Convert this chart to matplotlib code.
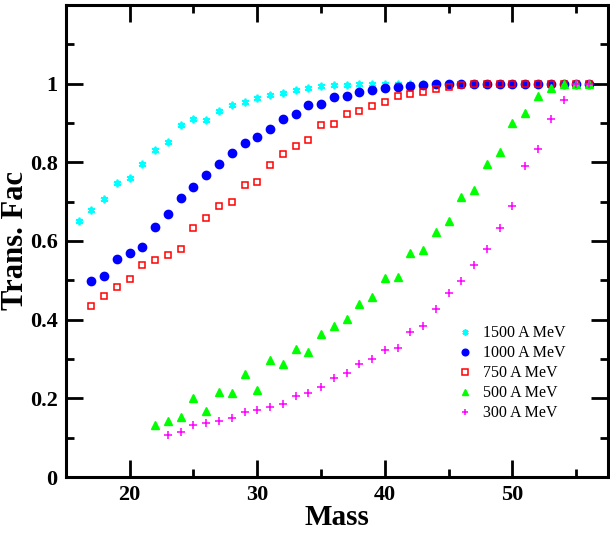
import numpy as np
import matplotlib
matplotlib.use("Agg")
from matplotlib import pyplot as plt
from matplotlib.ticker import MultipleLocator

plt.rcParams['font.family'] = ['Liberation Serif', 'DejaVu Serif']

# transmission factor vs fragment mass, one series per beam energy
mass_1500 = np.arange(16, 57)
fac_1500 = [0.651, 0.679, 0.706, 0.748, 0.761, 0.796, 0.830, 0.852, 0.894, 0.911,
            0.908, 0.931, 0.946, 0.952, 0.964, 0.972, 0.977, 0.983, 0.989, 0.994,
            0.995, 0.997, 0.999, 1.0, 1.0, 1.0, 1.0, 1.0, 1.0, 1.0,
            1.0, 1.0, 1.0, 1.0, 1.0, 1.0, 1.0, 1.0, 1.0, 1.0, 1.0]

mass_1000 = np.arange(17, 57)
fac_1000 = [0.499, 0.510, 0.554, 0.570, 0.585, 0.635, 0.668, 0.709, 0.738, 0.768,
            0.796, 0.823, 0.848, 0.864, 0.884, 0.909, 0.922, 0.946, 0.948, 0.966,
            0.969, 0.979, 0.983, 0.988, 0.991, 0.994, 0.996, 0.999, 1.0, 1.0,
            1.0, 1.0, 1.0, 1.0, 1.0, 1.0, 1.0, 1.0, 1.0, 1.0]

mass_750 = np.arange(17, 57)
fac_750 = [0.434, 0.459, 0.483, 0.502, 0.539, 0.551, 0.563, 0.579, 0.632, 0.657,
           0.688, 0.698, 0.742, 0.750, 0.794, 0.822, 0.841, 0.856, 0.895, 0.898,
           0.922, 0.929, 0.943, 0.954, 0.968, 0.973, 0.978, 0.985, 0.990, 0.996,
           0.999, 1.0, 1.0, 1.0, 1.0, 1.0, 1.0, 1.0, 1.0, 1.0]

mass_500 = np.arange(22, 57)
fac_500 = [0.133, 0.142, 0.153, 0.201, 0.168, 0.215, 0.213, 0.262, 0.220, 0.297,
           0.287, 0.325, 0.318, 0.364, 0.385, 0.401, 0.440, 0.457, 0.507, 0.508,
           0.569, 0.578, 0.623, 0.651, 0.711, 0.730, 0.795, 0.827, 0.900, 0.926,
           0.967, 0.988, 1.0, 1.0, 1.0]

mass_300 = np.arange(23, 57)
fac_300 = [0.106, 0.114, 0.132, 0.137, 0.143, 0.150, 0.164, 0.171, 0.178, 0.185,
           0.205, 0.213, 0.228, 0.251, 0.265, 0.286, 0.300, 0.323, 0.328, 0.369,
           0.384, 0.428, 0.467, 0.499, 0.538, 0.579, 0.634, 0.688, 0.791, 0.834,
           0.909, 0.958, 0.998, 1.0]

fig = plt.figure(figsize=(6.1, 5.33), dpi=100)
ax = fig.add_axes([0.108, 0.105, 0.889, 0.886])

ax.plot(mass_1500, fac_1500, ls='none', marker=(6, 2, 0), ms=5.5, mew=1.3,
        color='#00ffff', label='1500 A MeV')
ax.plot(mass_1000, fac_1000, ls='none', marker='o', ms=6,
        color='#0000ff', label='1000 A MeV')
ax.plot(mass_750, fac_750, ls='none', marker='s', ms=5, mew=1.1,
        mfc='none', mec='#ff0000', label='750 A MeV')
ax.plot(mass_500, fac_500, ls='none', marker='^', ms=6,
        color='#00ff00', label='500 A MeV')
ax.plot(mass_300, fac_300, ls='none', marker='+', ms=6, mew=1.1,
        color='#ff00ff', label='300 A MeV')

ax.set_xlim(15, 57.5)
ax.set_ylim(0, 1.2)
ax.xaxis.set_major_locator(MultipleLocator(10))
ax.xaxis.set_minor_locator(MultipleLocator(5))
ax.set_yticks([0, 0.2, 0.4, 0.6, 0.8, 1.0])
ax.set_yticklabels(['0', '0.2', '0.4', '0.6', '0.8', '1'])
ax.yaxis.set_minor_locator(MultipleLocator(0.1))

ax.tick_params(which='both', direction='in', top=True, right=True, width=2)
ax.tick_params(which='major', length=12, labelsize=16, pad=6)
ax.tick_params(which='minor', length=6)
for lab in ax.get_xticklabels() + ax.get_yticklabels():
    lab.set_fontweight('bold')
for sp in ax.spines.values():
    sp.set_linewidth(2.2)

ax.set_xlabel('Mass', fontsize=21, fontweight='bold', labelpad=-1)
ax.set_ylabel('Trans. Fac', fontsize=22, fontweight='bold', labelpad=0)

ax.legend(loc='upper left', bbox_to_anchor=(0.695, 0.352), frameon=False,
          fontsize=11.5, handlelength=1.0, handletextpad=0.6, labelspacing=0.25,
          markerscale=0.8, numpoints=1)

fig.savefig('out.png', dpi=100)
